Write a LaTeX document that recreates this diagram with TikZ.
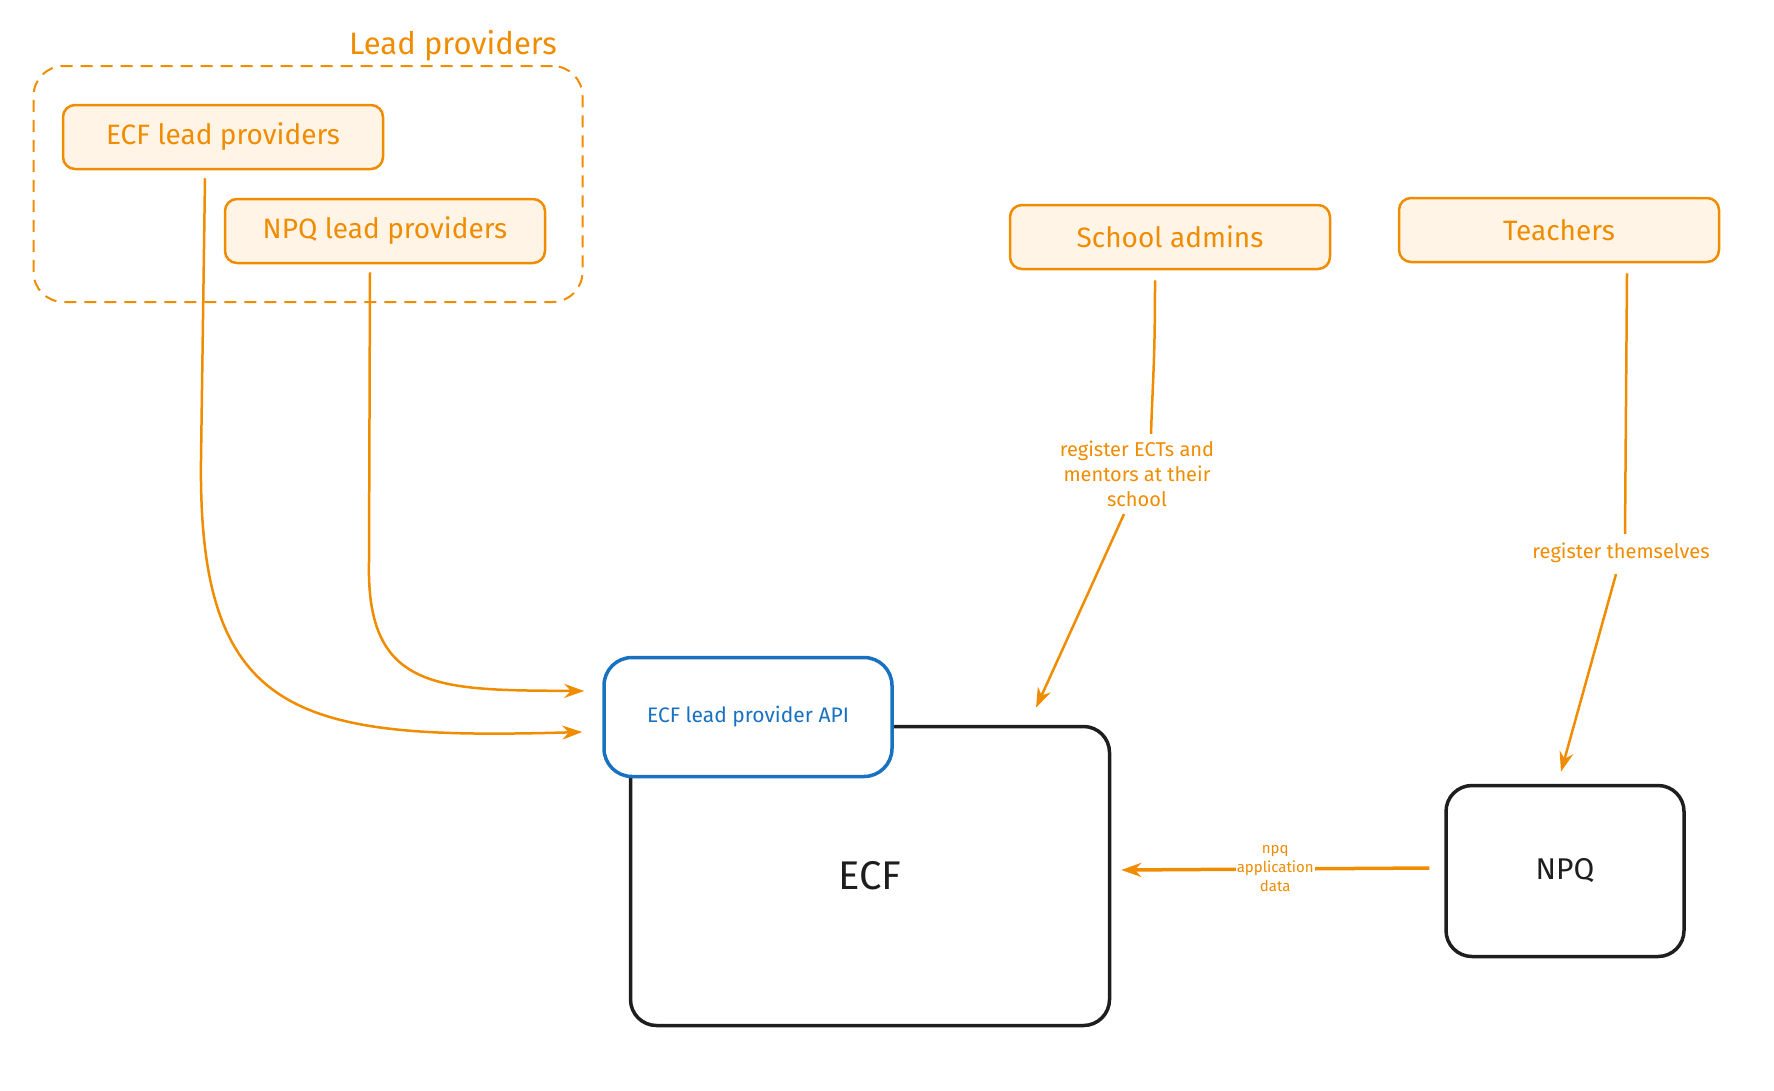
\documentclass[tikz,border=0pt]{standalone}
\usepackage{fontspec}
\setmainfont{Fira Sans}
\usetikzlibrary{shapes.geometric, arrows.meta, positioning, fit, backgrounds, calc}
\definecolor{lporange}{HTML}{F08C00}
\definecolor{lpfill}{HTML}{FFF4E6}
\definecolor{apiblue}{HTML}{1971C2}
\definecolor{inkblack}{HTML}{1E1E1E}
\tikzstyle{actor} = [rectangle, rounded corners=12pt, minimum width=320pt, minimum height=64pt, text centered, draw=lporange, fill=lpfill, line width=2.5pt, text=lporange, font=\fontsize{28}{34}\selectfont]
\tikzstyle{sysbox} = [rectangle, rounded corners=26pt, text centered, draw=inkblack, fill=white, line width=3.5pt, text=inkblack]
\tikzstyle{apibox} = [rectangle, rounded corners=28pt, minimum width=288pt, minimum height=119pt, text centered, draw=apiblue, fill=white, line width=3.5pt, text=apiblue, font=\fontsize{21}{26}\selectfont]
\tikzstyle{group} = [rectangle, rounded corners=30pt, dashed, dash pattern=on 12pt off 8pt, draw=lporange, line width=2pt]
\tikzstyle{link} = [line width=2.5pt, draw=lporange]
\tikzstyle{arrow} = [line width=2.5pt, draw=lporange, -{Stealth[length=20pt,width=14pt]}]
\tikzstyle{lbl} = [text=lporange, align=center, font=\fontsize{20}{25}\selectfont, fill=white, inner sep=3pt]

\begin{document}
\begin{tikzpicture}[x=1pt, y=-1pt]
\useasboundingbox (0,0) rectangle (1774,1090);

% lead providers group
\node (group) [group, minimum width=549pt, minimum height=236pt] at (308,184) {};
\node (grouplbl) [text=lporange, font=\fontsize{31}{36}\selectfont] at (453,46) {Lead providers};

% actors
\node (ecflp) [actor] at (223,137) {ECF lead providers};
\node (npqlp) [actor] at (385,231) {NPQ lead providers};
\node (admins) [actor] at (1170,237) {School admins};
\node (teachers) [actor] at (1559,230) {Teachers};

% systems
\node (ecf) [sysbox, minimum width=479pt, minimum height=299pt, font=\fontsize{40}{46}\selectfont] at (870,876) {ECF};
\node (api) [apibox] at (748,717) {ECF lead provider API};
\node (npq) [sysbox, minimum width=238pt, minimum height=171pt, font=\fontsize{30}{36}\selectfont] at (1565,871) {NPQ};

% labels
\node (adminslbl) [lbl] at (1137,474) {register ECTs and\\mentors at their\\school};
\node (teacherslbl) [lbl] at (1621,553) {register themselves};

% connectors
\draw [arrow] ($(ecflp.south)+(-18,8)$) -- ++(-4,282) .. controls +(-3,260) and (300,740) .. ($(api.west)+(-20,15)$);
\draw [arrow] ($(npqlp.south)+(-15,8)$) -- ++(-1,290) .. controls +(-3,130) and (440,690) .. ($(api.west)+(-18,-26)$);
\draw [link] ($(admins.south)+(-15,10)$) .. controls +(0,80) and +(2,-60) .. ($(adminslbl.north)+(14,-4)$);
\draw [arrow] ($(adminslbl.south)+(-13,4)$) -- ($(ecf.north)+(166,-17)$);
\draw [link] ($(teachers.south)+(68,10)$) -- ($(teacherslbl.north)+(4,-6)$);
\draw [arrow] ($(teacherslbl.south)+(-5,8)$) -- ($(npq.north)+(-4,-12)$);
\draw [arrow, line width=3.5pt] ($(npq.west)+(-15,-3)$) -- node[lbl, font=\fontsize{15}{19}\selectfont, inner sep=1pt] {npq\\application\\data} ($(ecf.east)+(10,-6)$);

\end{tikzpicture}
\end{document}
